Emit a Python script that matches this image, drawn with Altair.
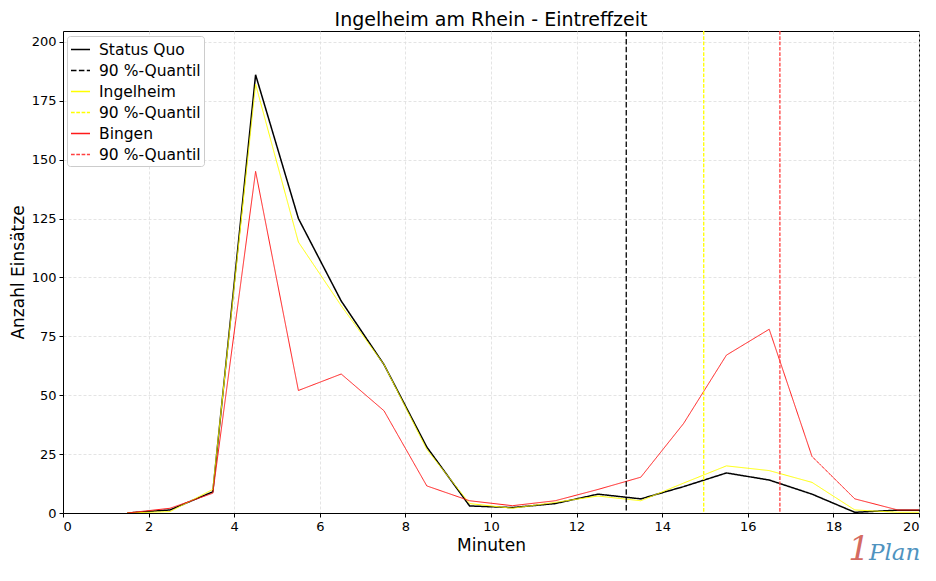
import altair as alt
import pandas as pd

minutes = [1.5, 2.5, 3.5, 4.5, 5.5, 6.5, 7.5, 8.5, 9.5, 10.5,
           11.5, 12.5, 13.5, 14.5, 15.5, 16.5, 17.5, 18.5, 19.5, 20.5]
status_quo = [0, 1.3, 9, 186, 125, 90, 63, 28, 3, 2.3, 4, 8, 6, 11.2, 17, 14, 8, 0.3, 1.2, 1.2]
ingelheim = [0, 0.6, 10, 182, 115, 88, 63, 27, 4, 2, 4.5, 7.2, 5.2, 12.7, 20, 18, 13, 1.3, 0.3, 0.3]
bingen = [0, 2, 8.4, 145, 52, 59, 43.4, 11.5, 5.2, 3.1, 5.2, 10, 15.2, 38, 67, 78, 24, 6, 1.3, 1.3]

series_names = ["Status Quo", "Ingelheim", "Bingen"]
quantile_keys = ["Status Quo q90", "Ingelheim q90", "Bingen q90"]
quantile_values = [13.16, 14.97, 16.75]

legend_domain = ["Status Quo", "Status Quo q90", "Ingelheim", "Ingelheim q90", "Bingen", "Bingen q90"]
legend_colors = ["#000000", "#000000", "#ffff00", "#ffff00", "#ff1a1a", "#ff4040"]
legend_dashes = [[1, 0], [5.5, 2.4], [1, 0], [3.7, 1.6], [1, 0], [3.7, 1.6]]

title_text = ["Ingelheim am Rhein - Eintreffzeit"]
logo_one = ["1"]
logo_plan = ["Plan"]

rows = []
for name, vals in zip(series_names, [status_quo, ingelheim, bingen]):
    for m, v in zip(minutes, vals):
        rows.append({"Minuten": m, "Anzahl": v, "series": name})
lines_df = pd.DataFrame(rows)
q_df = pd.DataFrame({"q": quantile_values, "series": quantile_keys})

FONT = "DejaVu Sans"
W = 856
H = 482

legend = alt.Legend(
    title=None,
    orient="none",
    legendX=4,
    legendY=5,
    symbolType="stroke",
    symbolSize=361,
    symbolStrokeWidth=1.5,
    labelFontSize=15.5,
    labelFont=FONT,
    labelColor="#000000",
    labelOffset=8,
    rowPadding=2,
    padding=3,
    fillColor="#ffffff",
    strokeColor="#cccccc",
    cornerRadius=3,
    labelExpr="indexof(datum.label, 'q90') >= 0 ? '90 %-Quantil' : datum.label",
)

color = alt.Color("series:N", scale=alt.Scale(domain=legend_domain, range=legend_colors), legend=legend)
dash = alt.StrokeDash("series:N", scale=alt.Scale(domain=legend_domain, range=legend_dashes), legend=legend)

x_enc = alt.X(
    "Minuten:Q",
    scale=alt.Scale(domain=[0, 20], nice=False, zero=False),
    axis=alt.Axis(values=[0, 2, 4, 6, 8, 10, 12, 14, 16, 18, 20], title="Minuten", format="d"),
)
y_enc = alt.Y(
    "Anzahl:Q",
    scale=alt.Scale(domain=[0, 204.6], nice=False),
    axis=alt.Axis(values=[0, 25, 50, 75, 100, 125, 150, 175, 200], title="Anzahl Einsätze"),
)

base = alt.Chart(lines_df)
layers = []
for name, w in zip(series_names, [1.5, 1.0, 1.0]):
    layers.append(
        base.transform_filter(alt.datum.series == name)
        .mark_line(strokeWidth=w, clip=True)
        .encode(x=x_enc, y=y_enc, color=color, strokeDash=dash)
    )

rules = alt.Chart(q_df).mark_rule(strokeWidth=1.3).encode(
    x=alt.X("q:Q"), color=color, strokeDash=dash
)

title_mark = alt.Chart(pd.DataFrame({"t": title_text})).mark_text(
    font=FONT, fontSize=19, color="#000000", align="center", baseline="alphabetic"
).encode(text="t:N", x=alt.value(W / 2), y=alt.value(-5))

logo1 = alt.Chart(pd.DataFrame({"t": logo_one})).mark_text(
    font="DejaVu Serif", fontStyle="italic", fontSize=34, color="#d56b60", align="center", baseline="alphabetic"
).encode(text="t:N", x=alt.value(W - 60), y=alt.value(H + 47))
logo2 = alt.Chart(pd.DataFrame({"t": logo_plan})).mark_text(
    font="DejaVu Serif", fontStyle="italic", fontSize=23, color="#4f93bf", align="left", baseline="alphabetic"
).encode(text="t:N", x=alt.value(W - 50), y=alt.value(H + 47))

chart = alt.layer(*layers, rules, title_mark, logo1, logo2).properties(
    width=W,
    height=H,
    autosize=alt.AutoSizeParams(type="none"),
    padding={"left": 55, "top": 23, "right": 9, "bottom": 56},
).configure_view(
    stroke="#000000", strokeWidth=1
).configure_axis(
    labelFont=FONT, labelFontSize=13, labelColor="#000000",
    titleFont=FONT, titleFontSize=17, titleFontWeight="normal", titleColor="#000000",
    domainColor="#000000", domainWidth=1,
    tickColor="#000000", tickSize=4, tickWidth=1,
    gridColor="#dddddd", gridDash=[3, 2], gridWidth=0.8,
    labelPadding=3,
).configure_axisX(
    titlePadding=4,
).configure_axisY(
    titlePadding=4,
)

chart.save("out.html", embed_options={"renderer": "svg", "actions": False})
